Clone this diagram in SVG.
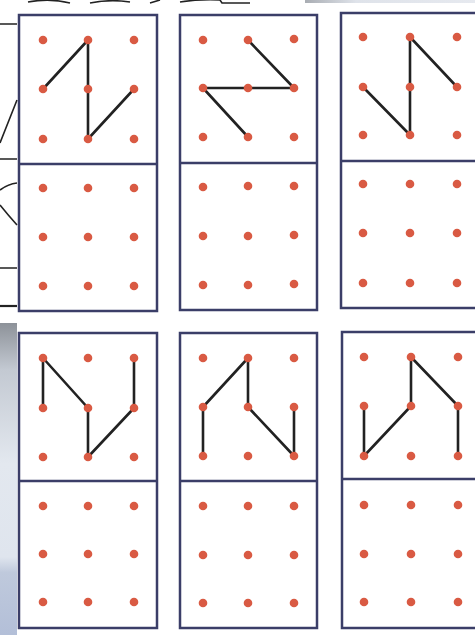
<svg xmlns="http://www.w3.org/2000/svg" width="475" height="635" viewBox="0 0 475 635">
<defs>
<style>
.box{fill:#fff;stroke:#3b3e68;stroke-width:2.5}
.div{stroke:#3b3e68;stroke-width:2.5}
.dot{fill:#d95a43}
.fig{fill:none;stroke:#222;stroke-width:2.6;stroke-linejoin:round;stroke-linecap:round}
.scrap{fill:none;stroke:#222;stroke-width:1.6}
</style>
<linearGradient id="bg" x1="0" y1="0" x2="0" y2="1">
<stop offset="0" stop-color="#8d9299"/>
<stop offset="0.15" stop-color="#c3c9d2"/>
<stop offset="0.45" stop-color="#e3e8ef"/>
<stop offset="0.75" stop-color="#dfe5ee"/>
<stop offset="0.8" stop-color="#bfc9dc"/>
<stop offset="1" stop-color="#b3bfd8"/>
</linearGradient>
<linearGradient id="topbar" x1="0" y1="0" x2="1" y2="0">
<stop offset="0" stop-color="#a9adb3"/>
<stop offset="0.3" stop-color="#dfe3ea"/>
<stop offset="1" stop-color="#e6e9ef"/>
</linearGradient>
</defs>
<rect width="475" height="635" fill="#fff"/>
<g id="background">
<rect x="0" y="323" width="17" height="312" fill="url(#bg)"/>
<rect x="305" y="0" width="170" height="3" fill="url(#topbar)"/>
<path class="scrap" d="M0 24H17M17 100L0 143M0 159H17M0 190Q8 184 17 183M0 205Q8 215 17 225M0 268H17"/>
<path d="M0 306H17" stroke="#222" stroke-width="2.2"/>
<path class="scrap" d="M28 2Q50 -2 70 3M90 3Q110 -1 130 2M150 3L160 0M180 2Q200 -1 220 0L222 3H250"/>
</g>
<g id="panel1">
<rect class="box" x="19" y="15" width="138" height="296"/>
<line class="div" x1="19" y1="164" x2="157" y2="164"/>
</g>
<g id="panel2">
<rect class="box" x="180" y="15" width="137" height="295"/>
<line class="div" x1="180" y1="163" x2="317" y2="163"/>
</g>
<g id="panel3">
<rect class="box" x="341" y="13" width="140" height="295"/>
<line class="div" x1="341" y1="161" x2="481" y2="161"/>
</g>
<g id="panel4">
<rect class="box" x="19" y="333" width="138" height="295"/>
<line class="div" x1="19" y1="481" x2="157" y2="481"/>
</g>
<g id="panel5">
<rect class="box" x="180" y="333" width="137" height="295"/>
<line class="div" x1="180" y1="481" x2="317" y2="481"/>
</g>
<g id="panel6">
<rect class="box" x="342" y="332" width="140" height="296"/>
<line class="div" x1="342" y1="479" x2="482" y2="479"/>
</g>
<g id="connectors">
<polyline class="fig" points="43,89 88,40 88,139 134,89"/>
<polyline class="fig" points="248,40 294,88 203,88 248,137"/>
<polyline class="fig" points="457,87 410,37 410,135 363,87"/>
<polyline class="fig" points="43,408 43,358 88,408 88,457 134,408 134,358"/>
<polyline class="fig" points="203,456 203,407 248,358 248,407 294,456 294,407"/>
<polyline class="fig" points="364,406 364,456 411,406 411,357 458,406 458,456"/>
</g>
<g id="dots">
<g id="dots1" class="dot">
<circle cx="43" cy="40" r="4.3"/><circle cx="88" cy="40" r="4.3"/><circle cx="134" cy="40" r="4.3"/>
<circle cx="43" cy="89" r="4.3"/><circle cx="88" cy="89" r="4.3"/><circle cx="134" cy="89" r="4.3"/>
<circle cx="43" cy="139" r="4.3"/><circle cx="88" cy="139" r="4.3"/><circle cx="134" cy="139" r="4.3"/>
<circle cx="43" cy="188" r="4.3"/><circle cx="88" cy="188" r="4.3"/><circle cx="134" cy="188" r="4.3"/>
<circle cx="43" cy="237" r="4.3"/><circle cx="88" cy="237" r="4.3"/><circle cx="134" cy="237" r="4.3"/>
<circle cx="43" cy="286" r="4.3"/><circle cx="88" cy="286" r="4.3"/><circle cx="134" cy="286" r="4.3"/>
</g>
<g id="dots2" class="dot">
<circle cx="203" cy="40" r="4.3"/><circle cx="248" cy="40" r="4.3"/><circle cx="294" cy="39" r="4.3"/>
<circle cx="203" cy="88" r="4.3"/><circle cx="248" cy="88" r="4.3"/><circle cx="294" cy="88" r="4.3"/>
<circle cx="203" cy="137" r="4.3"/><circle cx="248" cy="137" r="4.3"/><circle cx="294" cy="137" r="4.3"/>
<circle cx="203" cy="187" r="4.3"/><circle cx="248" cy="186" r="4.3"/><circle cx="294" cy="186" r="4.3"/>
<circle cx="203" cy="236" r="4.3"/><circle cx="248" cy="236" r="4.3"/><circle cx="294" cy="235" r="4.3"/>
<circle cx="203" cy="285" r="4.3"/><circle cx="248" cy="285" r="4.3"/><circle cx="294" cy="284" r="4.3"/>
</g>
<g id="dots3" class="dot">
<circle cx="363" cy="37" r="4.3"/><circle cx="410" cy="37" r="4.3"/><circle cx="457" cy="37" r="4.3"/>
<circle cx="363" cy="87" r="4.3"/><circle cx="410" cy="87" r="4.3"/><circle cx="457" cy="87" r="4.3"/>
<circle cx="363" cy="135" r="4.3"/><circle cx="410" cy="135" r="4.3"/><circle cx="457" cy="135" r="4.3"/>
<circle cx="363" cy="184" r="4.3"/><circle cx="410" cy="184" r="4.3"/><circle cx="457" cy="184" r="4.3"/>
<circle cx="363" cy="233" r="4.3"/><circle cx="410" cy="233" r="4.3"/><circle cx="457" cy="233" r="4.3"/>
<circle cx="363" cy="283" r="4.3"/><circle cx="410" cy="283" r="4.3"/><circle cx="457" cy="283" r="4.3"/>
</g>
<g id="dots4" class="dot">
<circle cx="43" cy="358" r="4.3"/><circle cx="88" cy="358" r="4.3"/><circle cx="134" cy="358" r="4.3"/>
<circle cx="43" cy="408" r="4.3"/><circle cx="88" cy="408" r="4.3"/><circle cx="134" cy="408" r="4.3"/>
<circle cx="43" cy="457" r="4.3"/><circle cx="88" cy="457" r="4.3"/><circle cx="134" cy="457" r="4.3"/>
<circle cx="43" cy="506" r="4.3"/><circle cx="88" cy="506" r="4.3"/><circle cx="134" cy="506" r="4.3"/>
<circle cx="43" cy="554" r="4.3"/><circle cx="88" cy="554" r="4.3"/><circle cx="134" cy="554" r="4.3"/>
<circle cx="43" cy="602" r="4.3"/><circle cx="88" cy="602" r="4.3"/><circle cx="134" cy="602" r="4.3"/>
</g>
<g id="dots5" class="dot">
<circle cx="203" cy="358" r="4.3"/><circle cx="248" cy="358" r="4.3"/><circle cx="294" cy="358" r="4.3"/>
<circle cx="203" cy="407" r="4.3"/><circle cx="248" cy="407" r="4.3"/><circle cx="294" cy="407" r="4.3"/>
<circle cx="203" cy="456" r="4.3"/><circle cx="248" cy="456" r="4.3"/><circle cx="294" cy="456" r="4.3"/>
<circle cx="203" cy="506" r="4.3"/><circle cx="248" cy="506" r="4.3"/><circle cx="294" cy="506" r="4.3"/>
<circle cx="203" cy="555" r="4.3"/><circle cx="248" cy="555" r="4.3"/><circle cx="294" cy="555" r="4.3"/>
<circle cx="203" cy="603" r="4.3"/><circle cx="248" cy="603" r="4.3"/><circle cx="294" cy="603" r="4.3"/>
</g>
<g id="dots6" class="dot">
<circle cx="364" cy="357" r="4.3"/><circle cx="411" cy="357" r="4.3"/><circle cx="458" cy="357" r="4.3"/>
<circle cx="364" cy="406" r="4.3"/><circle cx="411" cy="406" r="4.3"/><circle cx="458" cy="406" r="4.3"/>
<circle cx="364" cy="456" r="4.3"/><circle cx="411" cy="456" r="4.3"/><circle cx="458" cy="456" r="4.3"/>
<circle cx="364" cy="505" r="4.3"/><circle cx="411" cy="505" r="4.3"/><circle cx="458" cy="505" r="4.3"/>
<circle cx="364" cy="554" r="4.3"/><circle cx="411" cy="554" r="4.3"/><circle cx="458" cy="554" r="4.3"/>
<circle cx="364" cy="602" r="4.3"/><circle cx="411" cy="602" r="4.3"/><circle cx="458" cy="602" r="4.3"/>
</g>
</g>
</svg>
